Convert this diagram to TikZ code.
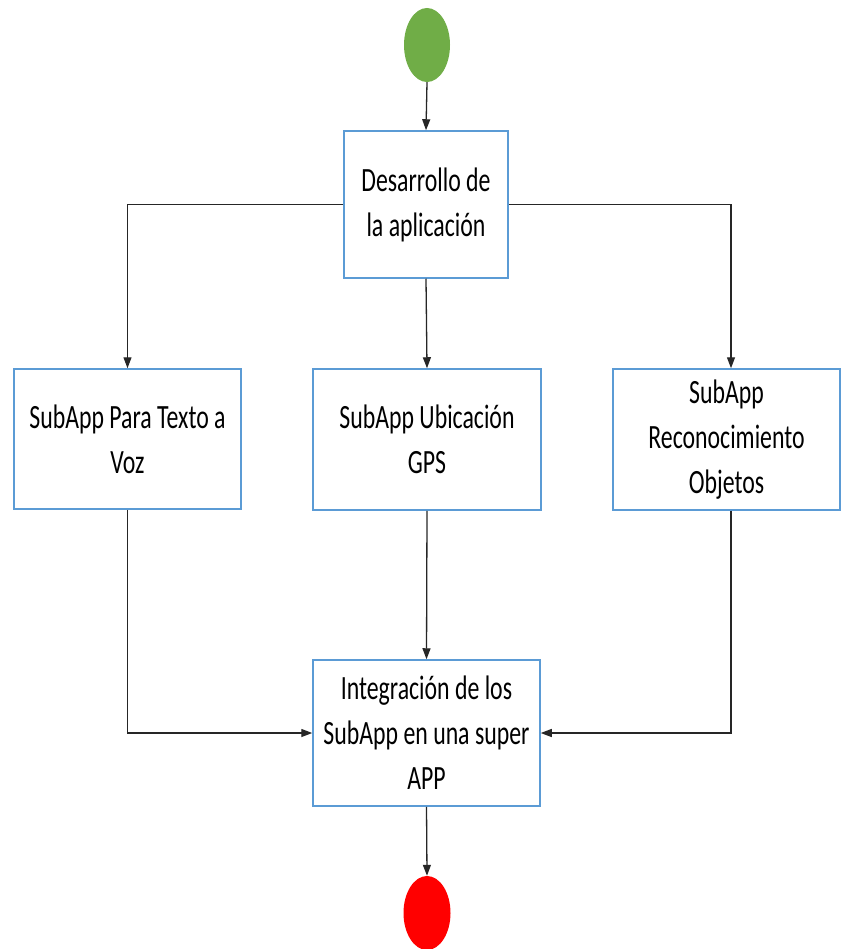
\documentclass[tikz,border=0pt]{standalone}
\usepackage{fontspec}
\setmainfont{Carlito}[FakeStretch=0.70]
\usetikzlibrary{arrows.meta,shapes.geometric}
\definecolor{boxblue}{RGB}{91,155,213}
\definecolor{startgreen}{RGB}{112,173,71}
\definecolor{endred}{RGB}{255,0,0}
\tikzset{
  stepbox/.style={draw=boxblue, line width=1.5pt, fill=white, rectangle, align=center,
    inner sep=0pt, font=\fontsize{34}{45}\selectfont},
  flowarrow/.style={draw=black!85, line width=1.3pt, -{Triangle[length=11pt,width=8pt]}},
}
\begin{document}
\begin{tikzpicture}[x=1pt,y=1pt]
\useasboundingbox (0,0) rectangle (841,-949);
\node[ellipse, fill=startgreen, minimum width=46pt, minimum height=74pt, inner sep=0pt] (start) at (427,-45) {};
\node[stepbox, minimum width=164pt, minimum height=147pt] (dev) at (426,-204.5) {Desarrollo de\\la aplicación};
\node[stepbox, minimum width=227pt, minimum height=140pt] (left) at (127.5,-439) {SubApp Para Texto a\\Voz};
\node[stepbox, minimum width=228pt, minimum height=141pt] (mid) at (427,-439.5) {SubApp Ubicación\\GPS};
\node[stepbox, minimum width=227pt, minimum height=141pt] (right) at (726.5,-439.5) {SubApp\\Reconocimiento\\Objetos};
\node[stepbox, minimum width=227pt, minimum height=146pt] (integ) at (426.5,-733) {Integración de los\\SubApp en una super\\APP};
\node[ellipse, fill=endred, minimum width=47pt, minimum height=74pt, inner sep=0pt] (end) at (427,-913) {};

\draw[flowarrow] (start.south) -- (dev.north);
\draw[flowarrow] (dev.west) -| (left.north);
\draw[flowarrow] (dev.east) -| ([xshift=4.5pt]right.north);
\draw[flowarrow] (dev.south) -- (mid.north);
\draw[flowarrow] (left.south) |- (integ.west);
\draw[flowarrow] (mid.south) -- (integ.north);
\draw[flowarrow] ([xshift=4.5pt]right.south) |- (integ.east);
\draw[flowarrow] (integ.south) -- (end.north);
\end{tikzpicture}
\end{document}
